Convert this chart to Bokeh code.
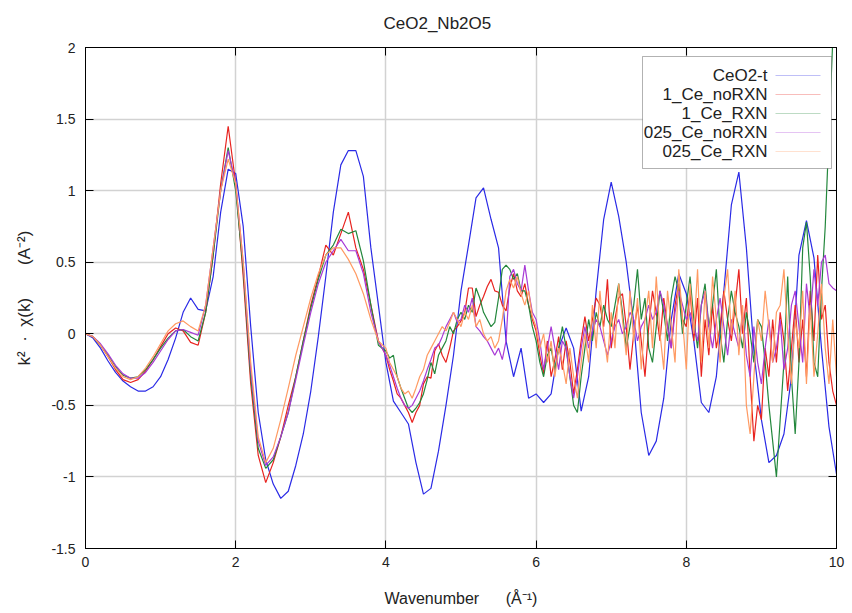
import numpy as np
from bokeh.plotting import figure
from bokeh.models import (LinearAxis, FixedTicker, BoxAnnotation, Label,
                          PolyAnnotation, Range1d)
from bokeh.embed import file_html
from bokeh.resources import INLINE

# ---------------- data ----------------
series_names = ["CeO2-t", "1_Ce_noRXN", "1_Ce_RXN", "025_Ce_noRXN", "025_Ce_RXN"]
series_colors = ["#2a2ae6", "#e8231f", "#23873c", "#a83ad6", "#ff9a62"]

x_ticks = [0, 2, 4, 6, 8, 10]
y_ticks = [-1.5, -1, -0.5, 0, 0.5, 1, 1.5, 2]
x_tick_labels = ["0", "2", "4", "6", "8", "10"]
y_tick_labels = ["-1.5", "-1", "-0.5", "0", "0.5", "1", "1.5", "2"]

# wavenumber grids (sample positions of the measured spectra)
k_ref = np.round(np.arange(0, 101) * 0.1, 2)          # CeO2-t
k_lo = np.round(np.arange(0, 40) * 0.1, 2)            # samples, 0 .. 3.9
k_hi = np.round(4.0 + np.arange(0, 121) * 0.05, 2)    # samples, 4.0 .. 10.0

ceo2_t = [0.00, -0.03, -0.10, -0.19, -0.27, -0.33, -0.37, -0.40, -0.40, -0.37,
          -0.30, -0.18, -0.03, 0.15, 0.25, 0.17, 0.16, 0.40, 0.85, 1.15,
          1.12, 0.75, 0.05, -0.55, -0.88, -1.05, -1.15, -1.10, -0.92, -0.70,
          -0.40, -0.02, 0.40, 0.85, 1.18, 1.28, 1.28, 1.10, 0.60, 0.20,
          -0.20, -0.47, -0.55, -0.63, -0.90, -1.12, -1.08, -0.82, -0.50, -0.15,
          0.30, 0.62, 0.95, 1.02, 0.80, 0.60, -0.05, -0.30, -0.10, -0.45,
          -0.42, -0.48, -0.42, -0.10, 0.04, -0.10, -0.54, -0.30, 0.30, 0.80,
          1.06, 0.82, 0.50, 0.08, -0.55, -0.85, -0.75, -0.45, 0.10, 0.42,
          0.28, -0.05, -0.48, -0.55, -0.30, 0.30, 0.90, 1.13, 0.60, -0.12,
          -0.60, -0.90, -0.85, -0.70, -0.30, 0.55, 0.79, 0.53, -0.10, -0.65,
          -0.98]

ce1_norxn_lo = [0.00, -0.02, -0.08, -0.16, -0.25, -0.32, -0.34, -0.32, -0.26, -0.18,
                -0.09, 0.00, 0.04, 0.02, -0.06, -0.08, 0.15, 0.55, 1.05, 1.45,
                1.05, 0.40, -0.35, -0.85, -1.04, -0.90, -0.72, -0.50, -0.30, -0.05,
                0.20, 0.40, 0.62, 0.55, 0.70, 0.85, 0.60, 0.45, 0.20, -0.05]
ce1_norxn_hi = [-0.15, -0.25, -0.33, -0.42, -0.45, -0.50, -0.55, -0.62, -0.55, -0.50,
                -0.35, -0.30, -0.31, -0.12, -0.07, -0.15, -0.20, -0.10, 0.02, 0.05,
                0.09, 0.15, 0.32, 0.32, 0.12, 0.20, 0.26, 0.33, 0.38, 0.30,
                0.29, 0.20, 0.16, 0.32, 0.42, 0.30, 0.26, 0.35, 0.20, 0.10,
                0.02, -0.15, -0.28, -0.05, -0.30, -0.18, -0.02, -0.25, -0.05, -0.20,
                -0.42, -0.25, -0.05, 0.12, -0.05, 0.10, 0.25, 0.20, 0.05, 0.38,
                -0.10, 0.10, 0.25, 0.28, 0.05, -0.25, 0.00, 0.20, -0.05, -0.30,
                0.05, 0.30, 0.15, -0.05, 0.25, 0.05, -0.10, 0.20, 0.35, 0.10,
                0.05, 0.30, -0.05, 0.25, -0.30, 0.10, -0.15, 0.20, -0.10, 0.05,
                0.30, 0.10, -0.05, 0.20, 0.45, 0.00, 0.25, -0.30, -0.75, -0.50,
                -0.60, -0.10, -0.30, 0.10, -0.20, 0.15, -0.05, -0.40, -0.10, 0.20,
                -0.20, 0.10, -0.30, 0.30, -0.05, 0.55, 0.10, 0.20, -0.20, -0.40,
                -0.50]

ce1_rxn_lo = [0.00, -0.02, -0.08, -0.15, -0.23, -0.29, -0.31, -0.30, -0.25, -0.18,
              -0.10, -0.03, 0.02, 0.03, -0.02, -0.05, 0.15, 0.55, 1.00, 1.30,
              1.00, 0.45, -0.30, -0.80, -0.94, -0.88, -0.72, -0.55, -0.30, -0.05,
              0.18, 0.38, 0.55, 0.62, 0.73, 0.70, 0.72, 0.51, 0.20, -0.08]
ce1_rxn_hi = [-0.12, -0.17, -0.15, -0.30, -0.38, -0.45, -0.52, -0.55, -0.52, -0.48,
              -0.42, -0.32, -0.20, -0.28, -0.15, -0.10, -0.05, 0.05, 0.00, 0.10,
              0.15, 0.10, 0.20, 0.15, 0.32, 0.25, 0.15, 0.10, 0.05, 0.08,
              0.25, 0.45, 0.48, 0.45, 0.38, 0.42, 0.30, 0.30, 0.20, 0.05,
              -0.05, -0.20, -0.30, -0.15, -0.10, -0.25, -0.10, 0.05, -0.10, -0.30,
              -0.50, -0.55, -0.30, -0.10, 0.10, -0.05, 0.15, 0.05, 0.20, 0.10,
              0.05, 0.20, 0.35, 0.15, -0.10, 0.05, 0.20, 0.45, 0.10, 0.25,
              -0.10, -0.20, 0.05, 0.30, 0.15, -0.05, 0.25, 0.40, 0.30, 0.00,
              0.20, 0.40, 0.10, -0.10, 0.20, 0.35, 0.05, 0.20, 0.45, 0.00,
              -0.20, 0.10, 0.30, 0.15, 0.05, -0.10, 0.15, 0.00, -0.20, 0.10,
              0.05, -0.20, -0.50, -0.75, -1.00, -0.60, -0.20, 0.40, -0.30, -0.70,
              -0.20, 0.60, 0.78, 0.40, -0.20, -0.30, 0.30, 0.75, 1.40, 2.05,
              2.70]

ce025_norxn_lo = [0.00, -0.02, -0.07, -0.14, -0.22, -0.28, -0.31, -0.31, -0.27, -0.20,
                  -0.12, -0.04, 0.02, 0.03, 0.01, -0.01, 0.20, 0.60, 1.00, 1.28,
                  1.05, 0.50, -0.25, -0.75, -0.92, -0.86, -0.72, -0.55, -0.32, -0.08,
                  0.15, 0.35, 0.50, 0.58, 0.66, 0.58, 0.58, 0.42, 0.15, -0.05]
ce025_norxn_hi = [-0.15, -0.22, -0.30, -0.38, -0.45, -0.50, -0.52, -0.50, -0.45, -0.40,
                  -0.33, -0.25, -0.18, -0.10, -0.08, -0.02, 0.05, 0.10, 0.15, 0.08,
                  0.10, 0.20, 0.15, 0.25, 0.05, 0.02, -0.02, -0.05, -0.10, -0.15,
                  -0.10, -0.18, -0.05, 0.40, 0.45, 0.35, 0.30, 0.48, 0.30, 0.15,
                  0.10, -0.05, -0.25, -0.10, 0.05, -0.10, -0.25, -0.05, -0.10, -0.30,
                  -0.45, -0.30, -0.10, 0.05, -0.10, 0.02, 0.10, 0.05, -0.05, -0.15,
                  -0.05, 0.05, 0.10, 0.00, 0.05, 0.15, 0.10, -0.05, 0.05, 0.10,
                  0.20, 0.10, 0.15, 0.30, 0.20, 0.05, -0.10, 0.15, 0.30, 0.20,
                  0.10, 0.15, 0.05, -0.05, 0.20, 0.30, 0.05, -0.10, 0.10, 0.25,
                  0.05, -0.15, 0.10, 0.00, -0.10, 0.15, -0.15, -0.30, 0.05, -0.20,
                  -0.35, -0.10, 0.10, -0.20, -0.10, 0.10, -0.25, -0.10, 0.20, 0.30,
                  0.05, -0.20, 0.35, 0.10, 0.45, 0.20, 0.50, 0.55, 0.35, 0.32,
                  0.30]

ce025_rxn_lo = [0.00, -0.02, -0.08, -0.16, -0.24, -0.30, -0.32, -0.30, -0.24, -0.16,
                -0.07, 0.02, 0.07, 0.09, 0.05, 0.02, 0.20, 0.60, 1.00, 1.22,
                1.05, 0.50, -0.20, -0.72, -0.90, -0.80, -0.60, -0.38, -0.15, 0.05,
                0.25, 0.42, 0.55, 0.60, 0.60, 0.52, 0.42, 0.28, 0.10, -0.05]
ce025_rxn_hi = [-0.10, -0.20, -0.25, -0.30, -0.38, -0.42, -0.40, -0.45, -0.38, -0.30,
                -0.25, -0.15, -0.10, -0.05, 0.00, 0.05, 0.02, 0.08, 0.15, 0.10,
                0.05, 0.15, 0.10, 0.20, 0.05, 0.10, 0.00, -0.05, -0.02, -0.10,
                -0.05, 0.10, 0.30, 0.38, 0.32, 0.40, 0.28, 0.20, 0.30, 0.12,
                0.05, -0.10, 0.00, -0.20, -0.05, -0.30, -0.10, -0.20, -0.35, -0.10,
                -0.30, -0.45, -0.20, 0.00, -0.20, 0.20, -0.10, 0.30, 0.00, -0.20,
                0.15, -0.10, 0.35, 0.10, -0.15, 0.30, -0.05, 0.25, -0.25, 0.10,
                0.30, -0.10, 0.40, 0.00, -0.25, 0.30, 0.05, -0.20, 0.45, 0.10,
                -0.25, 0.35, 0.00, 0.45, -0.20, 0.30, -0.10, 0.40, 0.10, -0.20,
                0.25, 0.45, 0.00, 0.30, -0.15, 0.20, -0.50, -0.70, -0.30, 0.10,
                -0.05, 0.30, 0.05, -0.20, 0.15, 0.20, 0.45, 0.00, -0.35, 0.10,
                -0.10, 0.30, -0.35, 0.20, -0.30, 0.00, 0.35, -0.10, -0.35, 0.10,
                -0.30]

NB = "\u00a0"
title_text = "CeO2_Nb2O5"
x_label = "Wavenumber" + NB * 6 + "(Å\u207b\u00b9)"
y_label = ("k\u00b2" + NB * 2 + "\u00b7" + NB * 2 + "\u03c7(k)" + NB * 7
           + "(A\u207b\u00b2)")

FONT = "Liberation Sans"

# ---------------- figure ----------------
W, H = 852, 613
ML, MR, MT, MB = 85, 16, 47, 65

p = figure(width=W, height=H, output_backend="svg", toolbar_location=None,
           x_range=Range1d(0, 10), y_range=Range1d(-1.5, 2),
           min_border_left=ML, min_border_right=MR, min_border_top=MT,
           min_border_bottom=MB, background_fill_color="white",
           border_fill_color="white")

p.title.text = title_text
p.title.align = "left"
p.title.offset = 298
p.title.vertical_align = "top"
p.title.text_font = FONT
p.title.text_font_size = "17px"
p.title.text_font_style = "normal"
p.title.text_color = "#222222"
p.title.standoff = 26

p.outline_line_color = "black"
p.outline_line_width = 1

for ax, ticks, labels in ((p.xaxis[0], x_ticks, x_tick_labels),
                          (p.yaxis[0], y_ticks, y_tick_labels)):
    ax.ticker = FixedTicker(ticks=ticks)
    ax.major_label_overrides = {t: l for t, l in zip(ticks, labels)}
    ax.major_tick_in = 8
    ax.major_tick_out = 0
    ax.minor_tick_line_color = None
    ax.axis_line_color = "black"
    ax.major_tick_line_color = "black"
    ax.major_label_text_font = FONT
    ax.major_label_text_font_size = "14px"
    ax.major_label_text_color = "#222222"
    ax.axis_label_text_font = FONT
    ax.axis_label_text_font_size = "16px"
    ax.axis_label_text_font_style = "normal"
    ax.axis_label_text_color = "#222222"

p.xaxis[0].axis_label = x_label
p.yaxis[0].axis_label = y_label
p.yaxis[0].axis_label_text_font_size = "17px"
p.xaxis[0].major_label_standoff = 8
p.xaxis[0].axis_label_standoff = 20
p.yaxis[0].major_label_standoff = 10
p.yaxis[0].axis_label_standoff = 14

# mirrored tick marks (top and right), no labels
for loc, ticks in (("above", x_ticks), ("right", y_ticks)):
    ax = LinearAxis(ticker=FixedTicker(ticks=ticks))
    ax.major_tick_in = 8
    ax.major_tick_out = 0
    ax.minor_tick_line_color = None
    ax.major_label_text_color = None
    ax.major_label_standoff = 0
    ax.axis_line_color = "black"
    p.add_layout(ax, loc)

p.xgrid.ticker = FixedTicker(ticks=x_ticks)
p.ygrid.ticker = FixedTicker(ticks=y_ticks)
p.grid.grid_line_color = "#d2d2d2"
p.grid.grid_line_width = 1.5

# ---------------- lines ----------------
p.line(k_ref, ceo2_t, line_color=series_colors[0], line_width=1.2)
sample_series = [(ce1_norxn_lo, ce1_norxn_hi), (ce1_rxn_lo, ce1_rxn_hi),
                 (ce025_norxn_lo, ce025_norxn_hi), (ce025_rxn_lo, ce025_rxn_hi)]
k_sample = np.concatenate([k_lo, k_hi])
for i, (lo, hi) in enumerate(sample_series):
    p.line(k_sample, list(lo) + list(hi), line_color=series_colors[i + 1],
           line_width=1.2)

frame_h = H - MT - MB

# ---------------- legend (gnuplot style: text right, sample line after) ----------------
box = BoxAnnotation(left=557, right=746, top=frame_h - 9, bottom=frame_h - 121,
                    left_units="screen", right_units="screen",
                    top_units="screen", bottom_units="screen",
                    fill_color="white", fill_alpha=1.0,
                    line_color="black", line_width=1, level="overlay")
p.add_layout(box)
for i, (name, col) in enumerate(zip(series_names, series_colors)):
    yy = frame_h - 28 - 19 * i
    p.add_layout(Label(x=682, y=yy, x_units="screen", y_units="screen",
                       text=name, text_align="right", text_baseline="middle",
                       text_font=FONT, text_font_size="17px",
                       text_color="#222222", level="overlay"))
    p.add_layout(PolyAnnotation(xs=[690, 735], ys=[yy, yy],
                                xs_units="screen", ys_units="screen",
                                line_color=col, line_width=1.2,
                                fill_alpha=0, level="overlay"))

open("out.html", "w").write(file_html(p, INLINE))
